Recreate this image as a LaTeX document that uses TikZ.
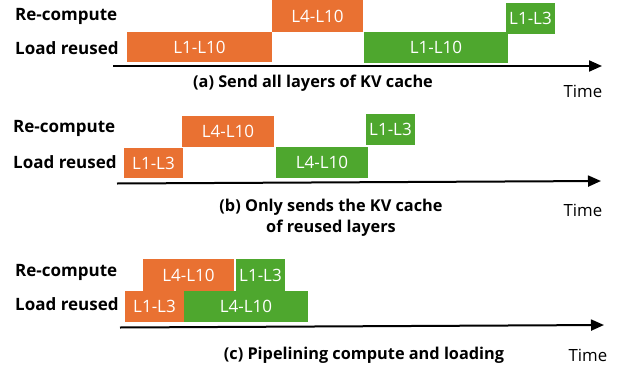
\documentclass[tikz,border=0pt]{standalone}
\usepackage{fontspec}
\setsansfont{Open Sans}
\usetikzlibrary{arrows.meta}

\definecolor{ofcorange}{HTML}{E97132}
\definecolor{ofcgreen}{HTML}{4EA72E}

\tikzset{
  lane/.style={anchor=west,inner sep=0pt,font=\sffamily\bfseries\fontsize{17}{20}\selectfont},
  seg/.style={rectangle,inner sep=0pt,text=white,font=\sffamily\fontsize{17}{20}\selectfont},
  cpu/.style={seg,fill=ofcorange},
  io/.style={seg,fill=ofcgreen},
  caption/.style={inner sep=0pt,align=center,font=\sffamily\bfseries\fontsize{16.3}{21}\selectfont},
  timelbl/.style={inner sep=0pt,font=\sffamily\fontsize{16.8}{20}\selectfont},
  timeaxis/.style={line width=2pt,-{Triangle[length=13pt,width=11pt]}}
}

\begin{document}
\begin{tikzpicture}[x=1pt, y=-1pt, line cap=butt, line join=miter]

  %% ════ (a) send all layers ════
  \node[lane] (aRe) at (15,16) {Re-compute};
  \node[lane] (aLd) at (15,48) {Load reused};
  \node[cpu,minimum width=145pt,minimum height=30pt] (aLd1) at (199.5,47.2) {L1-L10};   % box(127,32,145,30)
  \node[cpu,minimum width=91pt,minimum height=32pt]  (aRe1) at (317.5,16)   {L4-L10};   % box(272,0,91,32)
  \node[io,minimum width=144pt,minimum height=31pt]  (aLd2) at (436,47.5)   {L1-L10};   % box(364,32,144,31)
  \node[io,minimum width=49pt,minimum height=31pt]   (aRe2) at (530.5,18.5) {L1-L3};    % box(506,3,49,31)
  \coordinate (a0) at (113,66);
  \coordinate (a1) at (602,66);
  \draw[timeaxis] (a0) -- (a1);
  \node[caption] (aCap) at (313,83) {(a) Send all layers of KV cache};
  \node[timelbl] (aTime) at (583,91) {Time};

  %% ════ (b) only reused layers ════
  \node[lane] (bRe) at (13,128) {Re-compute};
  \node[lane] (bLd) at (13,162) {Load reused};
  \node[cpu,minimum width=59pt,minimum height=30pt] (bLd1) at (153.5,163)   {L1-L3};    % box(124,148,59,30)
  \node[cpu,minimum width=92pt,minimum height=31pt] (bRe1) at (228,131.5)   {L4-L10};   % box(182,116,92,31)
  \node[io,minimum width=92pt,minimum height=31pt]  (bLd2) at (322,162.5)   {L4-L10};   % box(276,147,92,31)
  \node[io,minimum width=49pt,minimum height=31pt]  (bRe2) at (390.5,129.5) {L1-L3};    % box(366,114,49,31)
  \coordinate (b0) at (117,183.5);
  \coordinate (b1) at (601,181);
  \draw[timeaxis] (b0) -- (b1);
  \node[caption] (bCap) at (331,217.5) {(b) Only sends the KV cache\\of reused layers};
  \node[timelbl] (bTime) at (583,210) {Time};

  %% ════ (c) pipelining ════
  \node[lane] (cRe) at (15,272) {Re-compute};
  \node[lane] (cLd) at (15,304) {Load reused};
  \node[cpu,minimum width=91pt,minimum height=32pt]  (cRe1) at (188.5,275)   {L4-L10};   % box(143,259,91,32)
  \node[io,minimum width=49pt,minimum height=32pt]   (cRe2) at (260.5,275)   {L1-L3};    % box(236,259,49,32)
  \node[cpu,minimum width=59pt,minimum height=31pt]  (cLd1) at (154.5,306.5) {L1-L3};    % box(125,291,59,31)
  \node[io,minimum width=124pt,minimum height=31pt]  (cLd2) at (246,306.5)   {L4-L10};   % box(184,291,124,31)
  \coordinate (c0) at (120,327.5);
  \coordinate (c1) at (604,325);
  \draw[timeaxis] (c0) -- (c1);
  \node[caption] (cCap) at (364,355) {(c) Pipelining compute and loading};
  \node[timelbl] (cTime) at (588,355) {Time};

  % 钉死画布
  \pgfresetboundingbox
  \path[use as bounding box] (0,0) rectangle (619,370);
\end{tikzpicture}
\end{document}
